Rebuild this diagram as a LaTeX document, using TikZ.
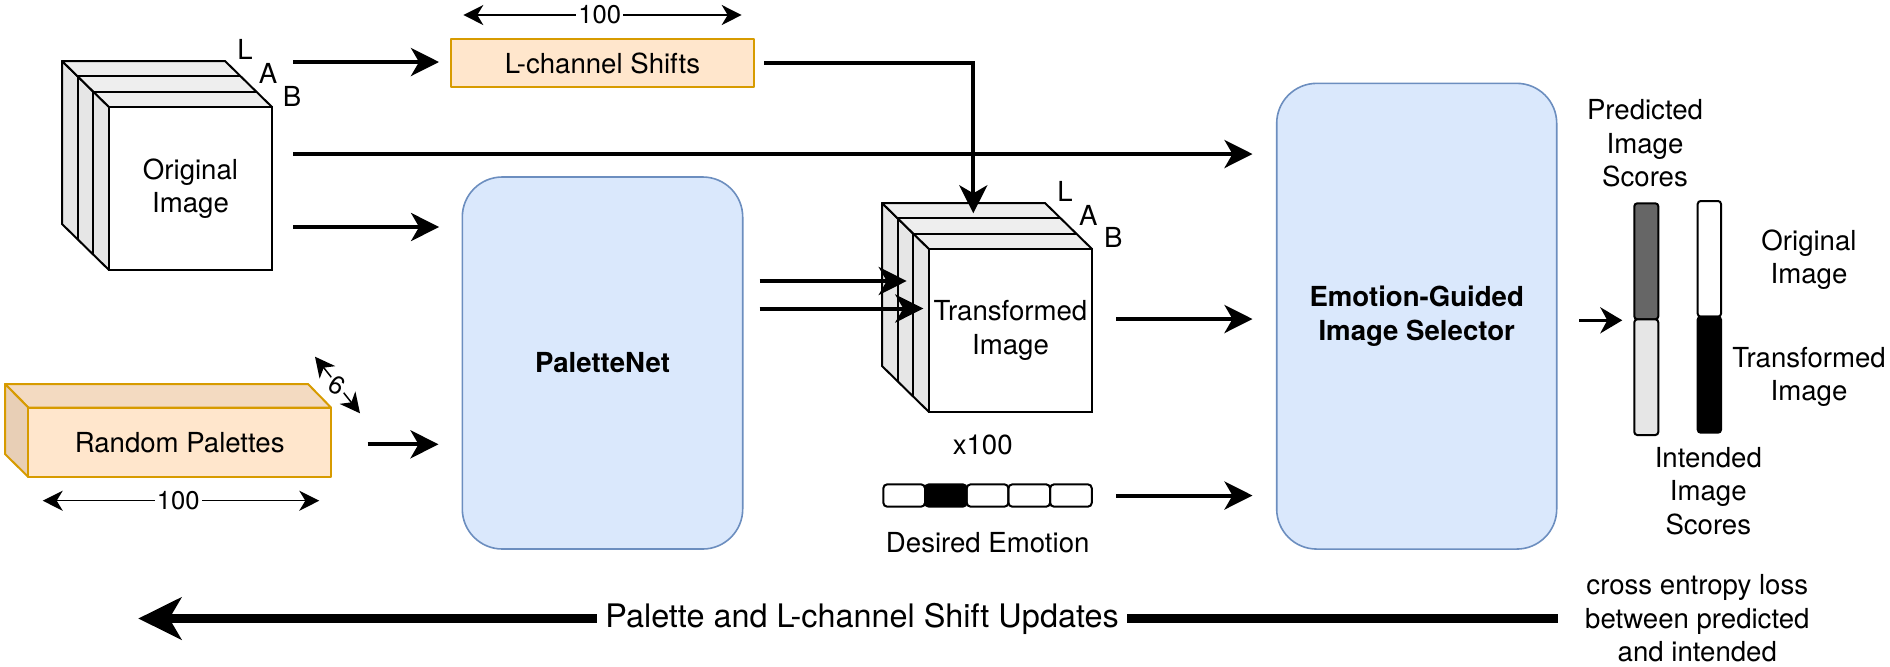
\documentclass[tikz,border=0pt]{standalone}
\usepackage{fontspec}
\setmainfont{TeX Gyre Heros}
\usetikzlibrary{arrows.meta}
\definecolor{bfill}{HTML}{DAE8FC}
\definecolor{bline}{HTML}{6C8EBF}
\definecolor{ofill}{HTML}{FFE6CC}
\definecolor{otop}{HTML}{F3DAC1}
\definecolor{oside}{HTML}{E8CFB6}
\definecolor{oline}{HTML}{D79B00}
\definecolor{gside}{HTML}{E6E6E6}
\definecolor{gtop}{HTML}{EEEEEE}
\definecolor{dgray}{HTML}{666666}
\definecolor{lgray}{HTML}{E6E6E6}
\begin{document}
\begin{tikzpicture}[x=0.5pt,y=-0.5pt,
  font=\fontsize{13.8pt}{16.8pt}\selectfont,
  txt/.style={align=center, inner sep=0pt},
  face/.style={draw, line width=1pt, fill=white, inner sep=0pt, align=center,
    minimum width=81.5pt, minimum height=81.5pt},
  cubeline/.style={line width=1pt, line join=round},
  bluebox/.style={draw=bline, fill=bfill, line width=0.8pt, rounded corners=20pt,
    align=center, inner sep=0pt, font=\fontsize{13.8pt}{16.8pt}\selectfont\bfseries},
  orline/.style={draw=oline, line width=1pt, line join=round},
  arr/.style={line width=2pt, -{Stealth[length=14pt,width=14pt,inset=4pt]}},
  arrs/.style={line width=1.8pt, -{Stealth[length=11pt,width=13pt,inset=3.5pt]}},
  dimarr/.style={line width=0.75pt,
    {Stealth[length=10pt,width=10pt,inset=3pt]}-{Stealth[length=10pt,width=10pt,inset=3pt]}},
  bigarr/.style={line width=4.5pt, -{Stealth[length=21.5pt,width=21pt,inset=6pt]}},
  dimlab/.style={fill=white, inner sep=1pt, font=\fontsize{12.8pt}{14pt}\selectfont},
  cell/.style={draw, line width=1pt, rounded corners=2pt, minimum width=20.85pt,
    minimum height=11.2pt, inner sep=0pt},
  bar/.style={draw, line width=1pt, rounded corners=1.5pt, inner sep=0pt}
]
\useasboundingbox (0,0) rectangle (1890,666);

% ---------- Original image cube ----------
\draw[cubeline, fill=gside] (62,61)--(109,107)--(109,270)--(62,224)--cycle;
\draw[cubeline, fill=gtop] (62,61)--(225,61)--(272,107)--(109,107)--cycle;
\draw[cubeline] (77.7,76.3)--(240.7,76.3) (77.7,76.3)--(77.7,239.3);
\draw[cubeline] (93.3,91.7)--(256.3,91.7) (93.3,91.7)--(93.3,254.7);
\node[face] (orig) at (190.5,188.5) {Original\\Image};
\node[txt] (oL) at (245,49) {L};
\node[txt] (oA) at (268,73) {A};
\node[txt] (oB) at (292,96) {B};

% ---------- L-channel shifts ----------
\node[orline, fill=ofill, inner sep=0pt, minimum width=151.8pt, minimum height=23.7pt]
  (lch) at (602.5,63) {L-channel Shifts};
\coordinate (d1a) at (463.3,15);
\coordinate (d1b) at (741.7,15);
\draw[dimarr] (d1a) -- node[dimlab, pos=0.49] (d1l) {100} (d1b);

% ---------- Random palettes ----------
\draw[orline, fill=otop] (5,384)--(308,384)--(331,407.5)--(28.3,407.5)--cycle;
\draw[orline, fill=oside] (5,384)--(28.3,407.5)--(28.3,477)--(5,454)--cycle;
\node[orline, fill=ofill, inner sep=0pt, minimum width=151.35pt, minimum height=34.75pt]
  (rand) at (179.65,442.25) {Random Palettes};
\coordinate (d2a) at (42.7,500.7);
\coordinate (d2b) at (319.3,500.7);
\draw[dimarr] (d2a) -- node[dimlab, pos=0.49] (d2l) {100} (d2b);
\coordinate (s6a) at (315,356.7);
\coordinate (s6b) at (360,413.3);
\draw[dimarr] (s6a) -- node[dimlab, midway, rotate=-30] (s6l) {6} (s6b);

% ---------- PaletteNet ----------
\node[bluebox, minimum width=140.2pt, minimum height=186pt] (pnet) at (602.5,363) {PaletteNet};

% ---------- Transformed image cube ----------
\draw[cubeline, fill=gside] (882,203)--(929,249)--(929,412)--(882,366)--cycle;
\draw[cubeline, fill=gtop] (882,203)--(1045,203)--(1092,249)--(929,249)--cycle;
\draw[cubeline] (897.7,218.3)--(1060.7,218.3) (897.7,218.3)--(897.7,381.3);
\draw[cubeline] (913.3,233.7)--(1076.3,233.7) (913.3,233.7)--(913.3,396.7);
\node[face] (trans) at (1010.5,330.5) {Transformed\\Image};
\node[txt] (tL) at (1065,191) {L};
\node[txt] (tA) at (1088.3,215) {A};
\node[txt] (tB) at (1113.3,237.3) {B};
\node[txt] (x100) at (982.7,445) {x100};

% ---------- Desired emotion ----------
\node[cell] (e1) at (904.15,495.5) {};
\node[cell, fill=black] (e2) at (945.85,495.5) {};
\node[cell] (e3) at (987.55,495.5) {};
\node[cell] (e4) at (1029.25,495.5) {};
\node[cell] (e5) at (1070.95,495.5) {};
\node[txt] (demo) at (987.7,542.7) {Desired Emotion};

% ---------- Emotion-guided selector ----------
\node[bluebox, minimum width=140pt, minimum height=232.85pt] (eg) at (1416.7,316.2)
  {Emotion-Guided\\Image Selector};

% ---------- Score bars ----------
\node[bar, fill=dgray, minimum width=12pt, minimum height=58pt] (b1top) at (1646.3,261.3) {};
\node[bar, fill=lgray, minimum width=12pt, minimum height=57.85pt] (b1bot) at (1646.3,377.15) {};
\node[bar, fill=white, minimum width=11.65pt, minimum height=57.85pt] (b2top) at (1709.35,258.85) {};
\node[bar, fill=black, minimum width=11.65pt, minimum height=58pt] (b2bot) at (1709.35,374.7) {};
\node[txt] (pred) at (1645,143.3) {Predicted\\Image\\Scores};
\node[txt] (ori) at (1809,259.5) {Original\\Image};
\node[txt] (tra) at (1809,377) {Transformed\\Image};
\node[txt] (intd) at (1708.3,491) {Intended\\Image\\Scores};
\node[txt] (loss) at (1697.3,618.5) {cross entropy loss\\between predicted\\and intended};

% ---------- Connectors ----------
\coordinate (o1) at (293,62);
\coordinate (o2) at (293,154);
\coordinate (o3) at (293,227);
\coordinate (r1) at (367.7,444.3);
\draw[arr, shorten >=5.35pt] (o1) -- (o1 -| lch.west);
\draw[arr, shorten >=11.7pt] (o2) -- (o2 -| eg.west);
\draw[arr, shorten >=11.2pt] (o3) -- (o3 -| pnet.west);
\draw[arr, shorten >=11.5pt] (r1) -- (r1 -| pnet.west);
\coordinate (ttop) at (973.3,213.3);
\draw[arr, shorten <=4.5pt] (lch.east) -| (ttop);
\coordinate (tin1) at (906.7,281);
\coordinate (tin2) at (923.3,308.5);
\draw[arr, shorten <=8pt] (tin1 -| pnet.east) -- (tin1);
\draw[arr, shorten <=8pt] (tin2 -| pnet.east) -- (tin2);
\draw[arr, shorten <=11.5pt, shorten >=11.7pt] ([yshift=5.75pt]trans.east) -- ([yshift=5.75pt]trans.east -| eg.west);
\draw[arr, shorten <=11.65pt, shorten >=11.7pt] (e5.east) -- (e5.east -| eg.west);
\draw[arrs, shorten <=10.8pt, shorten >=5.5pt] (b1top.south west -| eg.east) -- (b1top.south west);
\coordinate (btip) at (138.3,619);
\draw[bigarr] (eg.east |- loss) -- node[pos=0.49, fill=white, inner xsep=4pt, inner ysep=2pt,
  font=\fontsize{16.2pt}{19pt}\selectfont] (upd) {Palette and L-channel Shift Updates} (btip |- loss);
\end{tikzpicture}
\end{document}
